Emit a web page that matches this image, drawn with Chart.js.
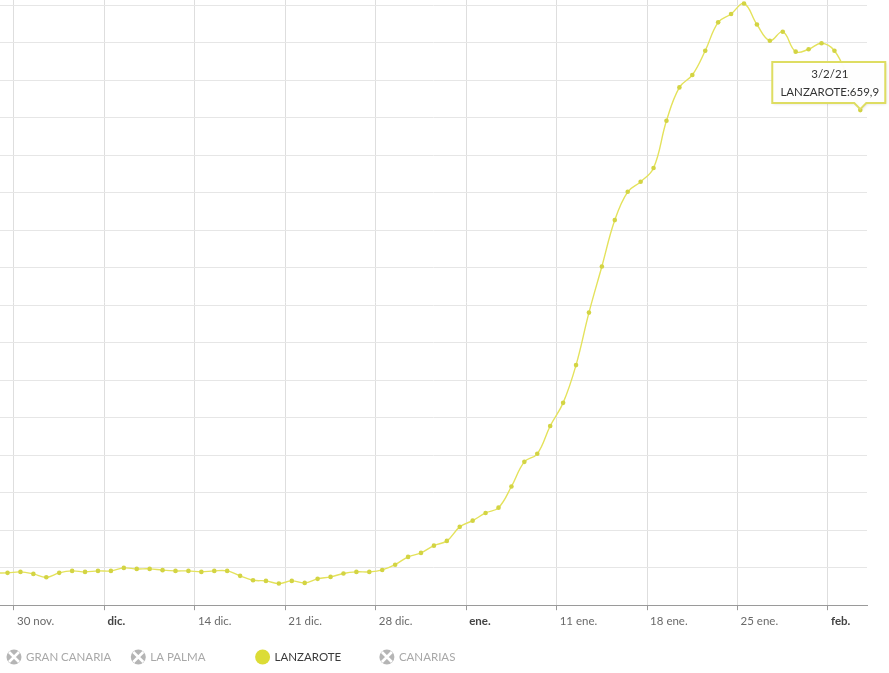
<!DOCTYPE html>
<html lang="es">
<head>
<meta charset="utf-8">
<title>Incidencia acumulada - Lanzarote</title>
<script src="https://cdn.jsdelivr.net/npm/chart.js@4.4.1/dist/chart.umd.min.js"></script>
<style>
	html, body { margin: 0; padding: 0; background: #fff; }
	.chart-wrap { position: relative; width: 889px; height: 673px; }
</style>
</head>
<body>
<div class="chart-wrap"><canvas id="incidenceChart"></canvas></div>
<script>
// daily values, D/M/YY like the tooltip
const dates = [
	'28/11/20', '29/11/20', '30/11/20',
	'1/12/20', '2/12/20', '3/12/20', '4/12/20', '5/12/20', '6/12/20', '7/12/20',
	'8/12/20', '9/12/20', '10/12/20', '11/12/20', '12/12/20', '13/12/20', '14/12/20',
	'15/12/20', '16/12/20', '17/12/20', '18/12/20', '19/12/20', '20/12/20', '21/12/20',
	'22/12/20', '23/12/20', '24/12/20', '25/12/20', '26/12/20', '27/12/20', '28/12/20',
	'29/12/20', '30/12/20', '31/12/20',
	'1/1/21', '2/1/21', '3/1/21', '4/1/21', '5/1/21', '6/1/21', '7/1/21',
	'8/1/21', '9/1/21', '10/1/21', '11/1/21', '12/1/21', '13/1/21', '14/1/21',
	'15/1/21', '16/1/21', '17/1/21', '18/1/21', '19/1/21', '20/1/21', '21/1/21',
	'22/1/21', '23/1/21', '24/1/21', '25/1/21', '26/1/21', '27/1/21', '28/1/21',
	'29/1/21', '30/1/21', '31/1/21',
	'1/2/21', '2/2/21', '3/2/21'
];

const lanzarote = [
	43.0, 43.1, 44.4,
	41.7, 37.3, 43.1, 45.7, 44.4, 45.7, 45.7,
	49.7, 48.4, 48.4, 46.7, 45.7, 45.7, 44.4,
	45.7, 45.7, 39.1, 33.3, 32.4, 28.9, 32.4,
	29.7, 35.1, 37.7, 42.3, 44.4, 44.4, 47.0,
	54.0, 64.4, 69.7,
	79.4, 85.7, 104.4, 112.7, 122.9, 130.0, 158.2,
	191.1, 201.8, 238.9, 269.7, 320.0, 390.0, 451.5,
	513.3, 551.0, 564.4, 582.7, 645.7, 690.2, 706.7,
	739.1, 776.9, 788.0, 802.0, 774.0, 752.4, 764.4,
	737.8, 741.0, 749.0,
	739.1, 705.0, 659.9
];

const tickDates = ['30/11/20', '7/12/20', '14/12/20', '21/12/20', '28/12/20', '4/1/21', '11/1/21', '18/1/21', '25/1/21', '1/2/21'];
const tickLabels = ['30 nov.', 'dic.', '14 dic.', '21 dic.', '28 dic.', 'ene.', '11 ene.', '18 ene.', '25 ene.', 'feb.'];
const monthLabels = ['dic.', 'ene.', 'feb.'];

const legendItems = ['GRAN CANARIA', 'LA PALMA', 'LANZAROTE', 'CANARIAS'];
const activeSeries = 'LANZAROTE';
const tooltipDate = '3/2/21';

(function () {
	const app = {
		fontFamily: 'Lato, "Open Sans", sans-serif',
		lineColor: '#e4e25c',
		pointColor: '#d3d443',

		formatValue(v) {
			return v.toFixed(1).replace('.', ',');
		},

		// legend under the axis, drawn by hand
		legendPlugin: {
			id: 'islandLegend',
			afterDraw(chart) {
				const ctx = chart.ctx;
				const y = 657;
				const startX = 14;
				const step = 124.3;
				ctx.save();
				ctx.font = '11.5px ' + app.fontFamily;
				ctx.textBaseline = 'middle';
				legendItems.forEach((name, i) => {
					const cx = startX + i * step;
					const active = name === activeSeries;
					ctx.beginPath();
					ctx.arc(cx, y, 7.5, 0, Math.PI * 2);
					ctx.fillStyle = active ? '#dcdc36' : '#b5b5b5';
					ctx.fill();
					if (!active) {
						ctx.strokeStyle = '#fff';
						ctx.lineWidth = 2.6;
						ctx.beginPath();
						ctx.moveTo(cx - 5, y - 5);
						ctx.lineTo(cx + 5, y + 5);
						ctx.moveTo(cx + 5, y - 5);
						ctx.lineTo(cx - 5, y + 5);
						ctx.stroke();
					}
					ctx.fillStyle = active ? '#3a3a3a' : '#a8a8a8';
					ctx.fillText(name, cx + 12, y + 0.5);
				});
				ctx.restore();
			}
		},

		// fixed callout on the last point
		calloutPlugin: {
			id: 'pointCallout',
			afterDatasetsDraw(chart) {
				const meta = chart.getDatasetMeta(0);
				const idx = dates.indexOf(tooltipDate);
				const pt = meta.data[idx];
				if (!pt) return;
				const ctx = chart.ctx;
				const px = pt.x;
				const py = pt.y;
				const w = 113;
				const h = 41;
				const right = px + 25;
				const left = right - w;
				const bottom = py - 7;
				const top = bottom - h;

				ctx.save();
				ctx.beginPath();
				ctx.moveTo(left, top);
				ctx.lineTo(right, top);
				ctx.lineTo(right, bottom);
				ctx.lineTo(px + 6, bottom);
				ctx.lineTo(px, py - 1);
				ctx.lineTo(px - 6, bottom);
				ctx.lineTo(left, bottom);
				ctx.closePath();
				ctx.shadowColor = 'rgba(0,0,0,0.15)';
				ctx.shadowBlur = 3;
				ctx.shadowOffsetX = 1;
				ctx.shadowOffsetY = 1;
				ctx.fillStyle = 'rgba(255,255,255,0.96)';
				ctx.fill();
				ctx.shadowColor = 'transparent';
				ctx.strokeStyle = '#dedd62';
				ctx.lineWidth = 2;
				ctx.stroke();

				ctx.fillStyle = '#333';
				ctx.font = '11.5px ' + app.fontFamily;
				ctx.textAlign = 'center';
				ctx.textBaseline = 'middle';
				const cx = (left + right) / 2 + 1;
				ctx.fillText(tooltipDate, cx, top + 12);
				ctx.fillText(activeSeries + ':' + app.formatValue(lanzarote[idx]), cx, top + 30);
				ctx.restore();
			}
		},

		buildChart() {
			const canvas = document.getElementById('incidenceChart');
			if (!canvas) return;

			const points = lanzarote.map((v, i) => ({ x: i, y: v }));
			// points sit at midday, ticks at the start of the day
			const tickValues = tickDates.map(d => dates.indexOf(d) - 0.5);

			new Chart(canvas.getContext('2d'), {
				type: 'line',
				data: {
					datasets: [{
						label: activeSeries,
						data: points,
						borderColor: app.lineColor,
						borderWidth: 1.4,
						tension: 0.4,
						pointRadius: 2.3,
						pointBackgroundColor: app.pointColor,
						pointBorderWidth: 0,
						fill: false
					}]
				},
				options: {
					responsive: true,
					maintainAspectRatio: false,
					animation: false,
					layout: {
						autoPadding: false,
						padding: { left: 0, right: 22, top: 0, bottom: 41 }
					},
					plugins: {
						legend: { display: false },
						tooltip: { enabled: false }
					},
					scales: {
						x: {
							type: 'linear',
							min: 0.4165,
							max: 67.52,
							afterBuildTicks(scale) {
								scale.ticks = tickValues.map(v => ({ value: v }));
							},
							grid: {
								color: '#dedede',
								tickColor: '#9a9a9a',
								tickLength: 5
							},
							border: { color: '#9a9a9a', width: 1 },
							ticks: {
								align: 'start',
								labelOffset: 3,
								padding: 4,
								maxRotation: 0,
								autoSkip: false,
								callback: (value, index) => tickLabels[index],
								color: (c) => monthLabels.includes(tickLabels[c.index]) ? '#444' : '#6a6a6a',
								font: (c) => ({
									family: app.fontFamily,
									size: 11.5,
									weight: monthLabels.includes(tickLabels[c.index]) ? 'bold' : 'normal'
								})
							}
						},
						y: {
							min: 0,
							max: 806.67,
							border: { display: false },
							grid: { color: '#e6e6e6', drawTicks: false },
							ticks: { display: false, stepSize: 50, includeBounds: false }
						}
					}
				},
				plugins: [app.calloutPlugin, app.legendPlugin]
			});
		},

		init() {
			app.buildChart();
		}
	};

	window.app = app;
})();

document.addEventListener('DOMContentLoaded', () => {
	window.app?.init?.();
});
</script>
</body>
</html>
